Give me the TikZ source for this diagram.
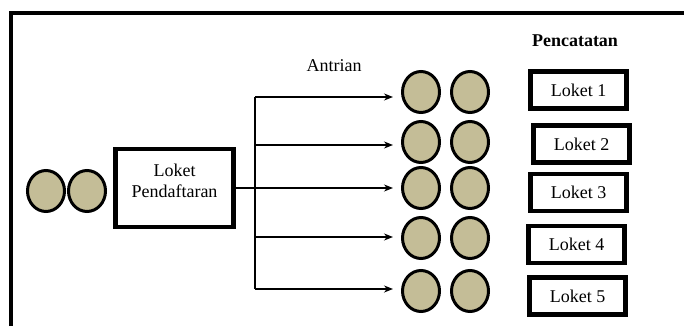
\documentclass[tikz,border=0pt]{standalone}
\usepackage{fontspec}
\setmainfont{Liberation Serif}
\usetikzlibrary{arrows.meta}
\usetikzlibrary{shapes.geometric}
\definecolor{coklat}{RGB}{196,189,151}
\tikzset{orang/.style={ellipse, draw, line width=3pt, fill=coklat, minimum width=37pt, minimum height=41pt, inner sep=0},
loket/.style={draw, line width=4.5pt, fill=white, minimum width=96pt, minimum height=37pt, inner sep=0},
panah/.style={black, line width=1.5pt, -{Stealth[length=9pt,width=7pt]}, shorten >=8pt}}

\begin{document}
\begin{tikzpicture}[x=1pt, y=-1pt, font=\rmfamily\fontsize{18}{21}\selectfont]
\useasboundingbox (0,0) rectangle (684,326);
\draw[line width=4pt] (11,326) -- (11,13) -- (684,13);

\node[orang] (a1) at (46,191) {};
\node[orang] (a2) at (87,191) {};
\node[draw, line width=4.5pt, minimum width=118pt, minimum height=78pt, align=center] (daftar) at (174.5,188) {Loket\\Pendaftaran\\[-6pt]};

\foreach \i/\y in {1/92,2/142,3/188,4/238,5/291} {
 \node[orang] (qa\i) at (421,\y) {};
 \node[orang] (qb\i) at (470,\y) {};
}
\foreach \i/\y in {1/97,2/145,4/237,5/289} {
 \coordinate (j\i) at (255,\y);
}
\draw[line width=1.5pt] (j1) -- (j5);
\foreach \i in {1,2,4,5} {
 \draw[panah] (j\i) -- (j\i -| qa\i.west);
}
\draw[panah] (daftar.east) -- (daftar.east -| qa3.west);

\node (antrian) at (334,66) {Antrian};
\node[font=\rmfamily\fontsize{18}{21}\selectfont\bfseries] (catat) at (575,41) {Pencatatan};
\foreach \i/\x/\y in {1/578.5/90, 2/581.5/144, 3/578.5/192.5, 4/576.5/244.5, 5/577.5/296} {
 \node[loket] (loket\i) at (\x,\y) {Loket \i};
}
\end{tikzpicture}
\end{document}
